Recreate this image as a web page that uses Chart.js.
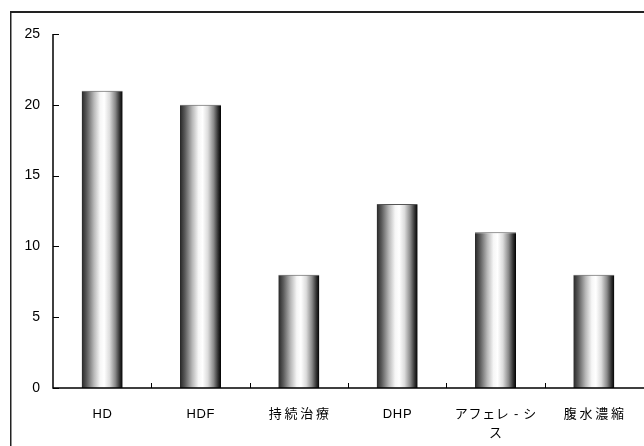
<!DOCTYPE html>
<html>
<head>
<meta charset="utf-8">
<script src="https://cdn.jsdelivr.net/npm/chart.js@4/dist/chart.umd.min.js"></script>
<style>
html,body{margin:0;padding:0;background:#fff;}
#wrap{position:relative;width:644px;height:446px;}
</style>
</head>
<body>
<div id="wrap"><canvas id="c" width="644" height="446"></canvas></div>
<script>
const categories = ['HD', 'HDF', '持続治療', 'DHP', ['アフェレ - シ', 'ス'], '腹水濃縮'];
const values = [21, 20, 8, 13, 11, 8];
const yMin = 0, yMax = 25, yStep = 5;

const FONT = '"Liberation Sans", Arial, "Noto Sans CJK JP", sans-serif';

function barGradient(ctx) {
  const chart = ctx.chart;
  const xs = chart.scales.x;
  if (!xs || !chart.chartArea) return '#888';
  const cx = xs.getPixelForValue(ctx.dataIndex);
  const cw = (chart.chartArea.right - chart.chartArea.left) / categories.length;
  const w = cw * 0.417;
  const g = chart.ctx.createLinearGradient(cx - w / 2, 0, cx + w / 2, 0);
  g.addColorStop(0, '#262626');
  g.addColorStop(0.12, '#5a5a5a');
  g.addColorStop(0.3, '#b8b8b8');
  g.addColorStop(0.45, '#f6f6f6');
  g.addColorStop(0.55, '#ffffff');
  g.addColorStop(0.68, '#dcdcdc');
  g.addColorStop(0.82, '#8a8a8a');
  g.addColorStop(0.93, '#303030');
  g.addColorStop(1, '#000000');
  return g;
}

// letter spacing for x-axis labels (reference text is spaced slightly wider)
function spacedLabels(scale) {
  if (scale._spacedPatched) return;
  scale._spacedPatched = true;
  const orig = scale.drawLabels;
  scale.drawLabels = function (area) {
    const c = this.ctx;
    const origFill = c.fillText;
    c.fillText = function (text, x, y, mw) {
      const sp = /[\u4e00-\u9fff]/.test(text) ? 2.7 : 0.7;
      c.letterSpacing = sp + 'px';
      const dx = c.textAlign === 'center' ? sp / 2 : 0;
      const r = mw === undefined ? origFill.call(c, text, x + dx, y) : origFill.call(c, text, x + dx, y, mw);
      c.letterSpacing = '0px';
      return r;
    };
    try { orig.call(this, area); } finally { c.fillText = origFill; c.letterSpacing = '0px'; }
  };
}

const framePlugin = {
  id: 'frame',
  beforeDraw(chart) {
    spacedLabels(chart.scales.x);
    const c = chart.ctx;
    c.save();
    c.fillStyle = '#fff';
    c.fillRect(0, 0, chart.width, chart.height);
    c.fillStyle = '#222';
    c.fillRect(10, 11, chart.width - 10, 2);
    c.fillRect(10, 11, 1.5, chart.height - 11);
    c.restore();
  },
  afterDatasetsDraw(chart) {
    const c = chart.ctx;
    const xs = chart.scales.x, ys = chart.scales.y;
    const a = chart.chartArea;
    c.save();
    c.strokeStyle = '#000';
    c.lineWidth = 1.5;
    c.beginPath();
    c.moveTo(a.left, ys.getPixelForValue(yMax));
    c.lineTo(a.left, ys.getPixelForValue(yMin));
    c.lineTo(chart.width, ys.getPixelForValue(yMin));
    c.stroke();
    c.lineWidth = 1;
    ys.ticks.forEach(t => {
      const y = Math.round(ys.getPixelForValue(t.value)) + 0.5;
      c.beginPath();
      c.moveTo(a.left, y);
      c.lineTo(a.left + 6, y);
      c.stroke();
    });
    const y0 = ys.getPixelForValue(yMin);
    for (let i = 1; i < categories.length; i++) {
      const x = Math.round((xs.getPixelForValue(i - 1) + xs.getPixelForValue(i)) / 2) + 0.5;
      c.beginPath();
      c.moveTo(x, y0);
      c.lineTo(x, y0 - 5);
      c.stroke();
    }
    c.restore();
  }
};

new Chart(document.getElementById('c'), {
  type: 'bar',
  data: {
    labels: categories,
    datasets: [{
      data: values,
      backgroundColor: barGradient,
      borderColor: '#555',
      borderWidth: { top: 1, left: 0, right: 0, bottom: 0 },
      borderSkipped: 'start',
      barPercentage: 0.417,
      categoryPercentage: 1.0
    }]
  },
  options: {
    responsive: false,
    animation: false,
    devicePixelRatio: 1,
    layout: { padding: { top: 34, right: 1, left: 0, bottom: 0 } },
    plugins: { legend: { display: false }, tooltip: { enabled: false } },
    scales: {
      x: {
        offset: true,
        grid: { display: false, drawTicks: false },
        border: { display: false },
        ticks: {
          color: '#000',
          font: { family: FONT, size: 13, lineHeight: 1.45 },
          padding: 17,
          maxRotation: 0,
          autoSkip: false
        },
        afterFit(s) { s.height = 58; }
      },
      y: {
        min: yMin,
        max: yMax,
        grid: { display: false, drawTicks: false },
        border: { display: false },
        ticks: {
          stepSize: yStep,
          color: '#000',
          font: { family: FONT, size: 14 },
          padding: 13
        },
        afterFit(s) { s.width = 53; }
      }
    }
  },
  plugins: [framePlugin]
});
</script>
</body>
</html>
